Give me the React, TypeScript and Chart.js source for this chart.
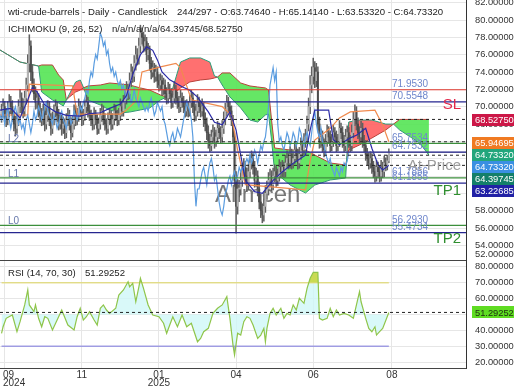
import React, { useEffect, useRef } from "react";
import { Chart, registerables } from "chart.js";

Chart.register(...registerables);

const FONT = '"Liberation Sans", Arial, Helvetica, sans-serif';

// ---------- header info ----------
const symbolTitle = "wti-crude-barrels - Daily - Candlestick";
const barPosition = 244;
const barTotal = 297;
const ichimokuTitle = "ICHIMOKU (9, 26, 52)";
const rsiTitle = "RSI (14, 70, 30)";
const watermarkText = "Allmcen";

// ---------- daily candles (bar index 0..251) ----------
const opens = [
  69.0, 69.5, 70.0, 69.0, 68.5, 69.5, 70.5, 70.0, 69.0, 68.0,
  67.5, 68.5, 70.0, 71.0, 70.0, 69.5, 71.0, 72.5, 75.0, 77.0,
  74.0, 72.5, 71.5, 70.5, 71.0, 69.5, 69.0, 68.5, 69.5, 68.0,
  69.0, 70.0, 68.5, 67.5, 68.5, 69.5, 70.0, 69.0, 68.0, 68.5,
  67.5, 68.0, 67.0, 68.5, 69.0, 68.0, 67.0, 68.0, 69.5, 68.5,
  69.0, 70.0, 69.5, 68.5, 69.0, 70.0, 70.5, 69.5, 69.0, 68.5,
  68.0, 69.0, 68.5, 67.5, 68.0, 69.0, 69.5, 68.5, 68.0, 67.5,
  68.5, 69.0, 68.0, 68.5, 69.5, 69.0, 68.5, 69.0, 70.0, 69.5,
  70.5, 71.0, 72.0, 71.5, 73.0, 74.0, 73.5, 75.0, 76.0, 75.5,
  77.0, 78.5, 78.0, 77.0, 77.5, 76.0, 76.5, 75.0, 74.0, 74.5,
  73.5, 74.0, 73.0, 72.5, 73.0, 72.0, 72.5, 71.5, 71.0, 72.0,
  71.5, 70.5, 71.0, 72.0, 71.0, 70.5, 70.0, 71.0, 70.5, 70.0,
  69.5, 70.0, 69.5, 70.5, 71.0, 70.0, 69.0, 69.5, 70.5, 70.0,
  69.5, 70.0, 68.5, 68.0, 67.0, 66.0, 65.5, 66.5, 67.0, 66.0,
  66.5, 67.5, 67.0, 66.5, 67.5, 68.5, 69.5, 70.5, 70.0, 69.5,
  68.5, 66.5, 61.5, 58.5, 60.5, 60.5, 61.5, 62.5, 63.0, 62.0,
  61.0, 62.5, 63.5, 64.0, 63.0, 61.5, 62.0, 60.5, 59.0, 58.0,
  57.5, 58.5, 60.0, 60.5, 61.5, 62.0, 61.0, 62.0, 62.5, 61.5,
  62.0, 63.0, 62.5, 63.0, 62.5, 63.5, 64.0, 63.5, 64.5, 63.5,
  64.0, 65.0, 64.5, 63.5, 64.5, 65.5, 65.0, 66.0, 66.5, 68.0,
  70.0, 72.5, 73.5, 74.5, 73.0, 74.0, 68.0, 66.0, 66.5, 65.5,
  65.0, 66.0, 67.0, 66.5, 65.5, 66.0, 67.0, 66.5, 65.5, 66.0,
  67.5, 67.0, 66.0, 65.5, 66.5, 67.0, 66.0, 65.5, 67.0, 68.5,
  69.5, 68.0, 67.0, 66.5, 67.5, 66.0, 65.5, 64.5, 64.0, 63.5,
  64.0, 63.0, 62.5, 62.0, 63.0, 62.5, 62.0, 63.0, 62.5, 63.5,
  63.2, 63.7464,
];
const highs = [
  70.3, 70.9, 70.6, 69.8, 70.6, 71.4, 71.2, 70.7, 69.6, 68.9,
  69.3, 70.8, 72.0, 71.6, 70.9, 71.8, 73.3, 76.0, 78.3, 77.6,
  74.8, 73.2, 72.3, 71.8, 71.5, 70.4, 69.8, 70.3, 70.0, 69.9,
  70.7, 70.6, 69.2, 69.4, 70.2, 70.8, 70.5, 69.7, 69.3, 69.0,
  68.8, 68.6, 69.2, 69.8, 69.6, 68.7, 68.9, 70.2, 70.1, 69.8,
  70.9, 70.6, 70.1, 69.7, 70.8, 71.3, 71.1, 70.2, 69.6, 69.2,
  69.9, 69.6, 69.1, 68.7, 69.8, 70.3, 70.1, 69.2, 68.6, 69.3,
  69.8, 69.5, 69.2, 70.3, 70.2, 69.6, 69.8, 70.9, 70.6, 71.3,
  71.8, 72.9, 72.6, 73.9, 74.9, 74.6, 75.9, 77.0, 76.7, 77.9,
  79.4, 79.1, 78.6, 78.3, 78.0, 77.3, 77.0, 75.7, 75.3, 75.0,
  74.8, 74.6, 73.7, 73.8, 73.6, 73.3, 73.1, 72.2, 72.8, 72.6,
  72.1, 71.8, 72.9, 72.5, 71.7, 71.2, 71.9, 71.6, 71.2, 70.7,
  70.8, 70.6, 71.3, 71.9, 71.6, 70.7, 70.3, 71.4, 71.1, 70.6,
  70.9, 70.5, 69.3, 68.7, 67.8, 66.8, 67.3, 67.9, 67.6, 67.3,
  68.3, 68.1, 67.7, 68.4, 69.4, 70.4, 71.3, 71.1, 70.6, 70.1,
  69.0, 67.0, 62.5, 61.6, 61.5, 62.6, 63.5, 64.0, 63.7, 62.9,
  63.4, 64.4, 64.9, 64.6, 63.7, 62.9, 62.6, 61.3, 59.9, 58.8,
  59.4, 60.9, 61.4, 62.4, 62.8, 62.6, 62.9, 63.3, 63.1, 62.8,
  63.9, 63.6, 63.8, 63.6, 64.4, 64.9, 64.6, 65.4, 65.1, 64.8,
  65.9, 65.6, 65.1, 65.3, 66.4, 66.1, 66.9, 67.4, 68.9, 71.0,
  73.6, 74.6, 75.6, 75.2, 75.0, 74.6, 68.8, 67.4, 67.2, 66.3,
  66.8, 67.9, 67.7, 67.2, 66.8, 67.9, 67.6, 67.2, 66.8, 68.4,
  68.1, 67.7, 66.7, 67.4, 67.8, 67.6, 66.7, 67.9, 69.4, 70.2,
  70.0, 68.7, 67.7, 68.3, 68.1, 66.7, 66.1, 65.2, 64.7, 64.8,
  64.6, 63.7, 63.2, 63.8, 63.6, 63.1, 63.8, 63.6, 64.3, 64.1,
  64.4, 65.1414,
];
const lows = [
  68.2, 68.8, 68.3, 67.7, 67.9, 68.8, 69.2, 68.3, 67.2, 66.6,
  66.9, 67.8, 69.3, 69.2, 68.7, 68.9, 70.3, 71.8, 74.0, 73.0,
  71.7, 70.8, 69.7, 69.8, 68.8, 68.2, 67.8, 67.9, 67.2, 67.4,
  68.3, 67.8, 66.7, 66.9, 67.9, 68.8, 68.3, 67.3, 67.4, 66.7,
  66.9, 66.3, 66.4, 67.8, 67.3, 66.2, 66.5, 67.4, 67.8, 67.9,
  68.3, 68.9, 67.8, 67.9, 68.4, 69.3, 68.8, 68.4, 67.8, 67.3,
  67.4, 67.9, 66.8, 66.9, 67.4, 68.3, 67.9, 67.3, 66.8, 66.9,
  67.9, 67.3, 67.4, 67.9, 68.4, 67.8, 67.9, 68.4, 68.9, 68.9,
  69.8, 70.3, 70.8, 70.9, 72.3, 72.8, 72.9, 74.2, 74.8, 74.9,
  76.2, 77.2, 76.3, 76.4, 75.2, 75.4, 74.2, 73.2, 73.4, 72.8,
  72.9, 72.2, 71.8, 71.9, 71.3, 71.4, 70.8, 70.3, 70.4, 70.9,
  69.8, 69.9, 70.4, 70.3, 69.8, 69.3, 69.4, 69.9, 69.3, 68.8,
  68.9, 68.8, 68.9, 69.9, 69.3, 68.3, 68.4, 68.9, 69.3, 68.8,
  68.9, 67.7, 67.2, 66.2, 65.2, 64.8, 64.9, 65.8, 65.2, 65.4,
  65.9, 66.3, 65.8, 65.9, 66.9, 67.9, 68.9, 69.3, 68.8, 67.8,
  65.8, 60.8, 55.4, 57.6, 59.6, 59.8, 60.8, 61.8, 61.2, 60.2,
  60.4, 61.8, 62.8, 62.2, 60.7, 60.8, 59.7, 58.2, 57.2, 56.6,
  56.8, 57.8, 59.3, 59.8, 60.8, 60.3, 60.4, 61.3, 60.8, 60.9,
  61.4, 61.8, 61.9, 61.8, 61.9, 62.9, 62.8, 62.9, 62.8, 62.9,
  63.4, 63.8, 62.8, 62.9, 63.9, 64.3, 64.4, 65.3, 65.8, 67.2,
  69.2, 71.6, 72.6, 72.2, 72.3, 67.3, 65.2, 65.3, 64.8, 64.2,
  64.4, 65.4, 65.8, 64.8, 64.9, 65.4, 65.8, 64.8, 64.9, 65.4,
  66.3, 65.3, 64.8, 64.9, 65.9, 65.3, 64.8, 64.9, 66.4, 67.8,
  67.3, 66.3, 65.8, 65.9, 65.3, 64.8, 63.8, 63.3, 62.8, 62.9,
  62.3, 61.8, 61.3, 61.4, 61.8, 61.3, 61.4, 61.8, 61.9, 62.6,
  62.7, 63.5332,
];
const closes = [
  69.5, 70.0, 69.0, 68.5, 69.5, 70.5, 70.0, 69.0, 68.0, 67.5,
  68.5, 70.0, 71.0, 70.0, 69.5, 71.0, 72.5, 75.0, 77.0, 74.0,
  72.5, 71.5, 70.5, 71.0, 69.5, 69.0, 68.5, 69.5, 68.0, 69.0,
  70.0, 68.5, 67.5, 68.5, 69.5, 70.0, 69.0, 68.0, 68.5, 67.5,
  68.0, 67.0, 68.5, 69.0, 68.0, 67.0, 68.0, 69.5, 68.5, 69.0,
  70.0, 69.5, 68.5, 69.0, 70.0, 70.5, 69.5, 69.0, 68.5, 68.0,
  69.0, 68.5, 67.5, 68.0, 69.0, 69.5, 68.5, 68.0, 67.5, 68.5,
  69.0, 68.0, 68.5, 69.5, 69.0, 68.5, 69.0, 70.0, 69.5, 70.5,
  71.0, 72.0, 71.5, 73.0, 74.0, 73.5, 75.0, 76.0, 75.5, 77.0,
  78.5, 78.0, 77.0, 77.5, 76.0, 76.5, 75.0, 74.0, 74.5, 73.5,
  74.0, 73.0, 72.5, 73.0, 72.0, 72.5, 71.5, 71.0, 72.0, 71.5,
  70.5, 71.0, 72.0, 71.0, 70.5, 70.0, 71.0, 70.5, 70.0, 69.5,
  70.0, 69.5, 70.5, 71.0, 70.0, 69.0, 69.5, 70.5, 70.0, 69.5,
  70.0, 68.5, 68.0, 67.0, 66.0, 65.5, 66.5, 67.0, 66.0, 66.5,
  67.5, 67.0, 66.5, 67.5, 68.5, 69.5, 70.5, 70.0, 69.5, 68.5,
  66.5, 61.5, 58.5, 60.5, 60.5, 61.5, 62.5, 63.0, 62.0, 61.0,
  62.5, 63.5, 64.0, 63.0, 61.5, 62.0, 60.5, 59.0, 58.0, 57.5,
  58.5, 60.0, 60.5, 61.5, 62.0, 61.0, 62.0, 62.5, 61.5, 62.0,
  63.0, 62.5, 63.0, 62.5, 63.5, 64.0, 63.5, 64.5, 63.5, 64.0,
  65.0, 64.5, 63.5, 64.5, 65.5, 65.0, 66.0, 66.5, 68.0, 70.0,
  72.5, 73.5, 74.5, 73.0, 74.0, 68.0, 66.0, 66.5, 65.5, 65.0,
  66.0, 67.0, 66.5, 65.5, 66.0, 67.0, 66.5, 65.5, 66.0, 67.5,
  67.0, 66.0, 65.5, 66.5, 67.0, 66.0, 65.5, 67.0, 68.5, 69.5,
  68.0, 67.0, 66.5, 67.5, 66.0, 65.5, 64.5, 64.0, 63.5, 64.0,
  63.0, 62.5, 62.0, 63.0, 62.5, 62.0, 63.0, 62.5, 63.5, 63.2,
  63.75, 64.7332,
];

// ---------- Ichimoku lines ----------
const chikouShift = 26;
const tenkanBars = [-1, 6, 12, 17, 20, 23, 28, 35, 42, 51, 57, 64, 70, 77, 81, 85, 90, 94, 98, 101, 104, 109, 117, 122, 127, 134, 138, 143, 148, 152, 155, 158, 164, 169, 176, 182, 190, 197, 200, 203, 212, 215, 219, 226, 230, 236, 240, 244, 247, 251];
const tenkanVals = [69.6, 69.8, 68.7, 70.8, 72.2, 71.7, 70.2, 69.4, 69.0, 68.9, 69.2, 69.3, 69.8, 70.3, 71.3, 73.7, 76.0, 76.9, 76.5, 75.4, 74.0, 73.1, 72.3, 71.9, 71.1, 69.4, 68.2, 67.9, 69.4, 67.3, 64.4, 61.5, 60.2, 60.0, 61.5, 62.5, 63.6, 64.4, 67.3, 69.6, 69.6, 66.2, 65.6, 66.4, 66.7, 67.5, 65.2, 63.3, 62.7, 63.22685];
const kijunBars = [-1, 17, 18, 46, 49, 77, 81, 88, 91, 103, 113, 116, 123, 143, 149, 153, 158, 197, 200, 203, 213, 219, 226, 242, 247, 251];
const kijunVals = [69.04, 69.04, 72.6, 72.4, 69.15, 69.15, 69.6, 70.8, 74.0, 74.6, 75.0, 74.5, 70.8, 70.0, 69.0, 65.0, 61.0, 60.4, 63.8, 66.15, 67.5, 68.7, 69.4, 69.6, 67.9, 65.94695];
const cloudBars = [-1, 12, 24, 26, 33, 37, 40, 42, 44, 48, 51, 53, 56, 64, 70, 77, 83, 90, 96, 103, 107, 111, 116, 122, 129, 135, 138, 140, 143, 148, 155, 161, 166, 171, 173, 175, 177, 187, 197, 203, 213, 223, 225, 232, 240, 249, 254, 258, 265, 271, 277];
const spanAVals = [76.54, 75.15, 74.69, 71.69, 70.77, 70.42, 70.08, 70.77, 71.46, 72.85, 73.08, 72.27, 70.77, 70.19, 69.62, 69.27, 69.38, 69.62, 69.85, 70.77, 71.12, 72.16, 75.15, 75.62, 75.62, 75.15, 73.54, 73.42, 72.5, 71.12, 69.85, 68.46, 68.23, 69.04, 69.15, 66.15, 62.46, 60.96, 60.04, 60.96, 61.54, 61.77, 68.23, 68.46, 68.46, 67.99, 67.99, 67.31, 66.5, 65.81, 64.39745];
const spanBVals = [76.54, 75.15, 74.69, 74.81, 74.81, 73.65, 73.08, 70.77, 71.12, 71.69, 71.92, 72.16, 72.39, 72.5, 72.73, 72.62, 72.5, 72.16, 71.92, 71.35, 71.12, 71.35, 72.16, 72.85, 73.08, 73.19, 73.31, 73.42, 73.89, 73.89, 72.73, 72.39, 72.27, 72.16, 71.92, 68.46, 65.23, 65.0, 65.0, 64.42, 63.5, 63.27, 65.0, 65.58, 66.38, 67.31, 67.99, 68.5275, 68.5275, 68.5275, 68.5275];

// ---------- RSI ----------
const rsiBars = [0, 1, 3, 7, 10, 12, 15, 17, 18, 21, 22, 24, 26, 28, 30, 33, 37, 39, 43, 47, 49, 51, 53, 55, 57, 60, 62, 64, 66, 68, 70, 74, 76, 79, 82, 83, 85, 87, 89, 90, 92, 95, 98, 102, 105, 107, 109, 111, 114, 117, 120, 123, 127, 129, 131, 134, 137, 140, 143, 146, 148, 150, 151, 153, 155, 157, 159, 161, 163, 166, 168, 170, 171, 172, 174, 176, 178, 181, 183, 185, 187, 189, 191, 193, 196, 198, 200, 202, 205, 206, 208, 211, 213, 215, 217, 219, 222, 225, 228, 230, 232, 233, 236, 238, 240, 242, 243, 245, 247, 251];
const rsiVals = [38.2, 42.3, 47.6, 49.7, 39.2, 45.5, 56.0, 65.4, 56.0, 51.8, 56.0, 47.6, 42.3, 48.6, 47.6, 40.3, 48.6, 52.8, 43.4, 40.3, 48.6, 53.9, 46.5, 48.6, 51.8, 46.5, 43.4, 53.9, 56.0, 52.8, 50.7, 53.9, 62.2, 65.4, 70.6, 67.4, 69.6, 58.0, 67.4, 72.7, 66.4, 56.0, 49.7, 48.6, 44.5, 38.2, 43.4, 48.6, 42.3, 49.7, 42.3, 44.5, 32.9, 35.0, 39.2, 41.3, 50.7, 53.9, 56.0, 61.2, 47.6, 30.8, 24.6, 38.2, 37.1, 45.5, 48.6, 47.6, 43.4, 35.0, 37.1, 41.3, 32.9, 41.3, 50.7, 53.9, 49.7, 53.9, 47.6, 50.7, 49.7, 56.0, 52.8, 60.2, 57.0, 66.4, 72.7, 76.5, 76.5, 47.6, 46.5, 47.6, 53.9, 48.6, 52.8, 49.7, 50.7, 49.7, 47.6, 56.0, 64.3, 58.0, 47.6, 41.3, 39.2, 42.3, 37.1, 39.2, 41.3, 51.29252];
const rsiBands = [70, 30];
const rsiFillBase = 50;

// ---------- axes ----------
const monthTickBars = [2, 52, 102, 152, 202, 253];
const monthLabels = ["09", "11", "01", "04", "06", "08"];
const yearLabels = ["2024", "", "2025", "", "", ""];
const priceTicks = [82, 80, 78, 76, 74, 72, 70, 68, 66, 64, 62, 60, 58, 56, 54, 52];
const rsiTicks = [80, 70, 60, 50, 40, 30, 20];

// ---------- trade levels ----------
const levelValues = [71.953, 70.5548, 65.7534, 64.7532, 61.7856, 61.1855, 56.293, 55.4734];
const levelColors = ["#e2382e", "#25258f", "#3c8f3c", "#25258f", "#3c8f3c", "#25258f", "#3c8f3c", "#25258f"];
const zoneNames = ["L2", "L1", "L0"];
const zoneLevelIndex = [2, 4, 6];
const bigLabels = ["SL", "At-Price", "TP1", "TP2"];
const bigLabelValues = [70.5548, 64.7332, 61.1855, 55.4734];
const bigLabelColors = ["#e3284a", "#9c9c9c", "#2f8f2f", "#2f8f2f"];
const bigLabelOffsets = [2.5, 13.5, 7.7, 6];

// current indicator values (dashed lines) and price tags
const dashedValues = [68.5275, 65.94695, 64.39745, 63.22685];
const tagValues = [68.5275, 65.94695, 64.7332, 64.7332, 64.39745, 63.22685];
const tagColors = ["#cc1747", "#f07a22", "#22a67c", "#3a8fe2", "#147f69", "#2121a5"];

const X_MIN = -1;
const X_MAX = 301;
const AXIS_W = 54;

const xy = (bars: number[], vals: number[]) => bars.map((b, i) => ({ x: b, y: vals[i] }));
const hline = (v: number, from = X_MIN, to = X_MAX) => [
  { x: from, y: v },
  { x: to, y: v },
];
const last = closes.length - 1;

function drawText(ctx: any, s: string, x: number, y: number, font: string, color: string, align = "left") {
  ctx.font = font;
  ctx.fillStyle = color;
  ctx.textAlign = align;
  ctx.textBaseline = "middle";
  ctx.fillText(s, x, y);
}

function drawTag(ctx: any, s: string, x: number, cy: number, bg: string, fg: string) {
  ctx.fillStyle = bg;
  ctx.fillRect(x, Math.round(cy - 6), 42, 12);
  drawText(ctx, s, x + 3, cy + 0.5, `9.3px ${FONT}`, fg);
}

function xScaleConfig() {
  return {
    type: "linear",
    min: X_MIN,
    max: X_MAX,
    offset: false,
    grid: { color: "#e6e6e6", drawTicks: false, offset: false, lineWidth: 1 },
    border: { display: false },
    ticks: { display: false },
    afterBuildTicks: (s: any) => {
      s.ticks = monthTickBars.map((v) => ({ value: v }));
    },
  };
}

const mainDecor = {
  id: "mainDecor",
  beforeDatasetsDraw(chart: any) {
    const ctx = chart.ctx;
    ctx.save();
    drawText(ctx, watermarkText, 215, 195, `24px ${FONT}`, "rgba(95,95,95,0.85)");
    ctx.restore();
  },
  afterDraw(chart: any) {
    const ctx = chart.ctx;
    const a = chart.chartArea;
    const ys = chart.scales.y;
    const py = (v: number) => ys.getPixelForValue(v);
    ctx.save();
    // panel bottom border
    ctx.strokeStyle = "#444";
    ctx.lineWidth = 1;
    ctx.beginPath();
    ctx.moveTo(0, a.bottom + 0.5);
    ctx.lineTo(a.right, a.bottom + 0.5);
    ctx.stroke();

    // right axis labels
    priceTicks.forEach((v) => {
      const y = Math.min(py(v), a.bottom - 6);
      drawText(ctx, v.toFixed(5), a.right + 9, y, `9.3px ${FONT}`, "#333");
    });

    // level value labels
    levelValues.forEach((v) => {
      drawText(ctx, v.toFixed(4), 392, py(v) - 5.5, `10px ${FONT}`, "#6f87cc");
    });
    zoneNames.forEach((n, i) => {
      drawText(ctx, n, 8, py(levelValues[zoneLevelIndex[i]]) - 4, `10px ${FONT}`, "#6677aa");
    });
    bigLabels.forEach((t, i) => {
      drawText(ctx, t, 461, py(bigLabelValues[i]) + bigLabelOffsets[i], `15px ${FONT}`, bigLabelColors[i], "right");
    });

    // price tags (stacked so they don't overlap)
    let prev = -1e9;
    tagValues.forEach((v, i) => {
      const y = Math.max(py(v) + 0.8, prev + 12);
      prev = y;
      drawTag(ctx, v.toFixed(5), a.right + 6, y, tagColors[i], "#ffffff");
    });

    // header
    const hf = `9.6px ${FONT}`;
    drawText(ctx, symbolTitle, 8, 12.7, hf, "#222");
    const ohlc = `${barPosition}/${barTotal} - O:${opens[last].toFixed(5)} - H:${highs[last].toFixed(5)} - L:${lows[last].toFixed(5)} - C:${closes[last].toFixed(5)}`;
    drawText(ctx, ohlc, 177, 12.7, hf, "#222");
    drawText(ctx, ichimokuTitle, 8, 29.3, hf, "#222");
    const ichiVals = `n/a/n/a/n/a/${spanAVals[spanAVals.length - 1].toFixed(5)}/${spanBVals[spanBVals.length - 1].toFixed(5)}`;
    drawText(ctx, ichiVals, 112, 29.3, hf, "#222");
    ctx.restore();
  },
};

const rsiDecor = {
  id: "rsiDecor",
  afterDraw(chart: any) {
    const ctx = chart.ctx;
    const a = chart.chartArea;
    const ys = chart.scales.y;
    const xs = chart.scales.x;
    ctx.save();
    ctx.strokeStyle = "#444";
    ctx.lineWidth = 1;
    ctx.beginPath();
    ctx.moveTo(0, a.bottom + 0.5);
    ctx.lineTo(a.right, a.bottom + 0.5);
    ctx.stroke();

    rsiTicks.forEach((v) => {
      drawText(ctx, v.toFixed(5), a.right + 9, ys.getPixelForValue(v), `9.3px ${FONT}`, "#333");
    });
    const rv = rsiVals[rsiVals.length - 1];
    drawTag(ctx, rv.toFixed(5), a.right + 6, ys.getPixelForValue(rv), "#5fdc22", "#1d2d12");

    drawText(ctx, rsiTitle, 8, 12.3, `9.6px ${FONT}`, "#222");
    drawText(ctx, rv.toFixed(5), 85, 12.3, `9.6px ${FONT}`, "#222");

    ctx.font = `10px ${FONT}`;
    monthTickBars.forEach((b, i) => {
      const cx = xs.getPixelForValue(b);
      [monthLabels[i], yearLabels[i]].forEach((t, row) => {
        if (!t) return;
        ctx.font = `10px ${FONT}`;
        const w = ctx.measureText(t).width;
        const left = Math.max(3, cx - w / 2);
        drawText(ctx, t, left, a.bottom + 7 + row * 8.5, `10px ${FONT}`, "#333");
      });
    });
    ctx.restore();
  },
};

function mainConfig(): any {
  const idx = closes.map((_, i) => i);
  const lineBase = { type: "line", pointRadius: 0, pointHoverRadius: 0, tension: 0 };
  const datasets: any[] = [
    {
      ...lineBase,
      label: "spanA",
      data: xy(cloudBars, spanAVals),
      borderColor: "#2f9a78",
      borderWidth: 1,
      fill: false,
      order: 19,
    },
    {
      ...lineBase,
      label: "spanB",
      data: xy(cloudBars, spanBVals),
      borderColor: "#b8413a",
      borderWidth: 1,
      fill: { target: 0, above: "rgba(84,228,84,0.9)", below: "rgba(255,96,96,0.9)" },
      order: 20,
    },
  ];
  levelValues.forEach((v, i) => {
    datasets.push({ ...lineBase, data: hline(v), borderColor: levelColors[i], borderWidth: 1.2, fill: false, order: 0 });
  });
  datasets.push({ ...lineBase, data: hline(closes[last]), borderColor: "#aaaaaa", borderWidth: 1, fill: false, order: 0 });
  dashedValues.forEach((v) => {
    datasets.push({ ...lineBase, data: hline(v), borderColor: "#222", borderDash: [3, 3], borderWidth: 1, fill: false, order: 0 });
  });
  datasets.push({
    type: "bar",
    label: "wicks",
    data: idx.map((i) => ({ x: i, y: [lows[i], highs[i]] })),
    backgroundColor: "#606060",
    barThickness: 0.9,
    grouped: false,
    borderWidth: 0,
    order: 8,
  });
  datasets.push({
    type: "bar",
    label: "bodies",
    data: idx.map((i) => ({ x: i, y: [opens[i], closes[i]] })),
    backgroundColor: idx.map((i) => (closes[i] >= opens[i] ? "#b4b4b4" : "#4c4c4c")),
    barThickness: 1.3,
    grouped: false,
    borderWidth: 0,
    minBarLength: 1,
    order: 7,
  });
  datasets.push({ ...lineBase, label: "kijun", data: xy(kijunBars, kijunVals), borderColor: "#f08a4e", borderWidth: 1.2, fill: false, order: 4 });
  datasets.push({
    ...lineBase,
    label: "chikou",
    data: closes.map((c, i) => ({ x: i - chikouShift, y: c })),
    borderColor: "#5b9de0",
    borderWidth: 1.2,
    fill: false,
    order: 3,
  });
  datasets.push({ ...lineBase, label: "tenkan", data: xy(tenkanBars, tenkanVals), borderColor: "#2b2ba6", borderWidth: 1.2, fill: false, order: 2 });

  return {
    type: "bar",
    data: { datasets },
    options: {
      responsive: false,
      maintainAspectRatio: false,
      animation: false,
      devicePixelRatio: 1,
      events: [],
      layout: { padding: { left: 0, right: 0, top: 0, bottom: 1 } },
      plugins: { legend: { display: false }, tooltip: { enabled: false } },
      scales: {
        x: xScaleConfig(),
        y: {
          type: "linear",
          position: "right",
          min: 52.308,
          max: 82.308,
          beginAtZero: false,
          grid: { color: "#e6e6e6", drawTicks: false },
          border: { display: true, color: "#333", width: 1 },
          ticks: { display: false },
          afterBuildTicks: (s: any) => {
            s.ticks = priceTicks.map((v) => ({ value: v }));
          },
          afterFit: (s: any) => {
            s.width = AXIS_W;
          },
        },
      },
    },
    plugins: [mainDecor],
  };
}

function rsiConfig(): any {
  const pts = xy(rsiBars, rsiVals);
  const lineBase = { pointRadius: 0, pointHoverRadius: 0, tension: 0 };
  const none = "rgba(0,0,0,0)";
  return {
    type: "line",
    data: {
      datasets: [
        { ...lineBase, data: pts, borderColor: none, borderWidth: 0, fill: { target: { value: rsiFillBase }, above: "rgba(208,248,248,0.8)", below: "rgba(208,248,248,0.8)" }, order: 6 },
        { ...lineBase, data: hline(rsiBands[0], 0, last), borderColor: "#e7df98", borderWidth: 1.5, fill: false, order: 5 },
        { ...lineBase, data: hline(rsiBands[1], 0, last), borderColor: "#a3a0e3", borderWidth: 1.5, fill: false, order: 5 },
        { ...lineBase, data: pts, borderColor: none, borderWidth: 0, fill: { target: { value: rsiBands[0] }, above: "rgba(200,214,64,0.9)", below: none }, order: 4 },
        { ...lineBase, data: pts, borderColor: none, borderWidth: 0, fill: { target: { value: rsiBands[1] }, above: none, below: "rgba(140,140,225,0.7)" }, order: 4 },
        { ...lineBase, data: pts, borderColor: "#8fc54a", borderWidth: 1.2, fill: false, order: 1 },
        { ...lineBase, data: hline(rsiVals[rsiVals.length - 1]), borderColor: "#222", borderDash: [3, 3], borderWidth: 1, fill: false, order: 0 },
      ],
    },
    options: {
      responsive: false,
      maintainAspectRatio: false,
      animation: false,
      devicePixelRatio: 1,
      events: [],
      layout: { padding: { left: 0, right: 0, top: 0, bottom: 22 } },
      plugins: { legend: { display: false }, tooltip: { enabled: false } },
      scales: {
        x: xScaleConfig(),
        y: {
          type: "linear",
          position: "right",
          min: 16.41,
          max: 83.58,
          grid: { color: "#e6e6e6", drawTicks: false },
          border: { display: true, color: "#333", width: 1 },
          ticks: { display: false },
          afterBuildTicks: (s: any) => {
            s.ticks = rsiTicks.map((v) => ({ value: v }));
          },
          afterFit: (s: any) => {
            s.width = AXIS_W;
          },
        },
      },
    },
    plugins: [rsiDecor],
  };
}

export default function App() {
  const mainRef = useRef<HTMLCanvasElement>(null);
  const rsiRef = useRef<HTMLCanvasElement>(null);

  useEffect(() => {
    document.body.style.margin = "0";
    const c1 = new Chart(mainRef.current as HTMLCanvasElement, mainConfig());
    const c2 = new Chart(rsiRef.current as HTMLCanvasElement, rsiConfig());
    return () => {
      c1.destroy();
      c2.destroy();
    };
  }, []);

  return (
    <div style={{ position: "relative", width: 520, height: 390, background: "#fff", overflow: "hidden" }}>
      <canvas ref={mainRef} width={520} height={261} style={{ position: "absolute", left: 0, top: 0, width: 520, height: 261 }} />
      <canvas ref={rsiRef} width={520} height={129} style={{ position: "absolute", left: 0, top: 261, width: 520, height: 129 }} />
    </div>
  );
}
